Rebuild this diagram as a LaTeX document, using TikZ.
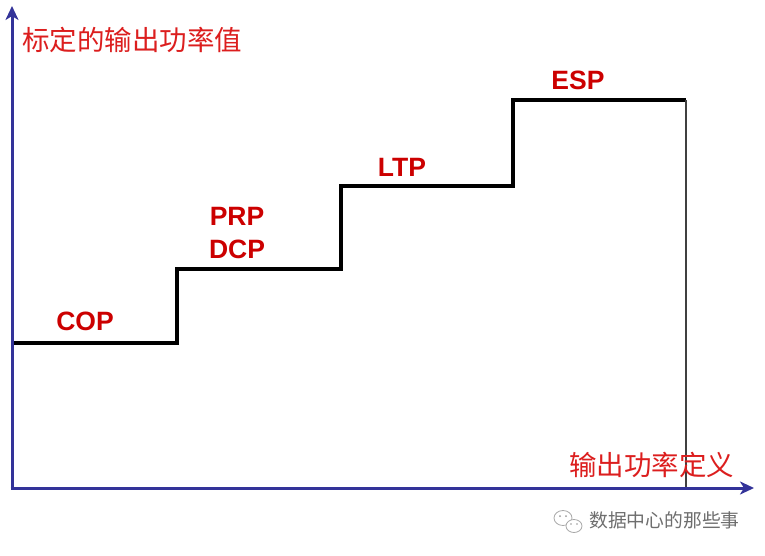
\documentclass[tikz,border=0pt]{standalone}
\usepackage{fontspec}
\setmainfont{Liberation Sans}
\newfontfamily\cjk{Noto Sans CJK SC}
\usetikzlibrary{arrows.meta}
\definecolor{axisblue}{RGB}{51,51,153}
\definecolor{lblred}{RGB}{204,0,0}
\definecolor{cjkred}{RGB}{220,30,30}
\definecolor{wmgray}{RGB}{110,110,110}
\begin{document}
\begin{tikzpicture}[x=1pt,y=-1pt,
  axis/.style={draw=axisblue,line width=3pt,-{Stealth[length=14pt,width=13pt,inset=4pt]}},
  stepline/.style={draw=black,line width=4pt,line join=miter},
  endline/.style={draw=black!75,line width=1.8pt},
  lvl/.style={text=lblred,font=\fontsize{26.5}{30}\selectfont\bfseries,inner sep=0pt},
  axlbl/.style={text=cjkred,font=\cjk\fontsize{27.5}{30}\selectfont,inner sep=0pt},
  wm/.style={text=wmgray,font=\cjk\fontsize{18.8}{22}\selectfont,inner sep=0pt}]
\useasboundingbox (0,0) rectangle (765,555);
\fill[white] (0,0) rectangle (765,555);
% coordinates
\coordinate (o) at (12,488);
\coordinate (ytop) at (12,6);
\coordinate (xend) at (754,488);
\coordinate (s0) at (12,343);
\coordinate (s1) at (177,343);
\coordinate (s2) at (177,269);
\coordinate (s3) at (341,269);
\coordinate (s4) at (341,186);
\coordinate (s5) at (513,186);
\coordinate (s6) at (513,100);
\coordinate (s7) at (686,100);
\coordinate (s8) at (686,488);
% step curve
\draw[stepline] (s0) -- (s1) -- (s2) -- (s3) -- (s4) -- (s5) -- (s6) -- (s7);
\draw[endline] (s7) -- (s8);
% axes
\draw[axis] (12,489.5) -- (ytop);
\draw[axis] (10.5,488) -- (xend);
% labels
\node[lvl] (cop) at (85,321) {COP};
\node[lvl] (prp) at (237,216) {PRP};
\node[lvl] (dcp) at (237,249) {DCP};
\node[lvl] (ltp) at (402,167) {LTP};
\node[lvl] (esp) at (578,80) {ESP};
\node[axlbl,anchor=west] (ylbl) at (22,40) {标定的输出功率值};
\node[axlbl,anchor=west] (xlbl) at (569,465) {输出功率定义};
% watermark
\begin{scope}[draw=wmgray!60,line width=0.8pt]
\draw[fill=white] (563,518) ellipse [x radius=9,y radius=7.5];
\draw[fill=white] (574,526) ellipse [x radius=8,y radius=6.5];
\fill[wmgray!70] (560,516) circle (1);
\fill[wmgray!70] (566,516) circle (1);
\fill[wmgray!70] (571,524) circle (0.9);
\fill[wmgray!70] (577,524) circle (0.9);
\end{scope}
\node[wm,anchor=west] (wmtext) at (589,520) {数据中心的那些事};
\end{tikzpicture}
\end{document}
